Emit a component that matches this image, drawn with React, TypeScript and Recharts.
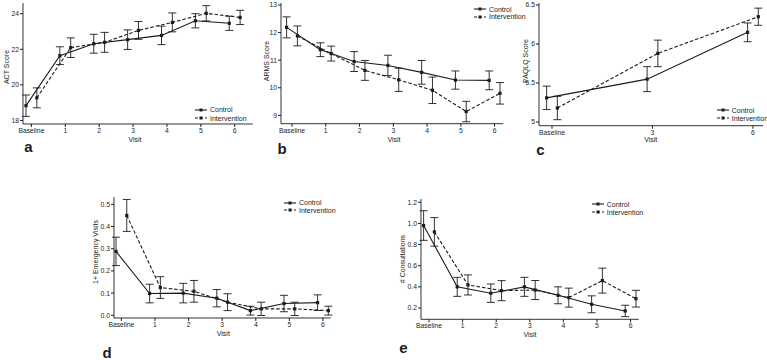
import React from 'react';
import { LineChart, Line, XAxis, YAxis, ErrorBar } from 'recharts';

// ---------- data ----------
const VISITS = [0, 1, 2, 3, 4, 5, 6];
const VISIT_LABELS = ['Baseline', '1', '2', '3', '4', '5', '6'];
const PAQLQ_VISITS = [0, 3, 6];
const PAQLQ_LABELS = ['Baseline', '3', '6'];

const actControl = [18.83, 21.64, 22.31, 22.54, 22.78, 23.6, 23.46];
const actControlErr = [0.6, 0.5, 0.53, 0.55, 0.52, 0.4, 0.4];
const actIntervention = [19.27, 22.09, 22.39, 23.06, 23.51, 24.02, 23.79];
const actInterventionErr = [0.56, 0.55, 0.56, 0.5, 0.53, 0.43, 0.4];
const actTicks = [18, 20, 22, 24];

const armsControl = [12.19, 11.38, 10.95, 10.81, 10.56, 10.28, 10.27];
const armsControlErr = [0.38, 0.25, 0.36, 0.37, 0.43, 0.33, 0.34];
const armsIntervention = [11.88, 11.24, 10.63, 10.29, 9.91, 9.14, 9.8];
const armsInterventionErr = [0.36, 0.27, 0.36, 0.42, 0.48, 0.37, 0.39];
const armsTicks = [9, 10, 11, 12, 13];

const paqlqControl = [5.31, 5.55, 6.15];
const paqlqControlErr = [0.15, 0.16, 0.12];
const paqlqIntervention = [5.18, 5.88, 6.35];
const paqlqInterventionErr = [0.15, 0.17, 0.11];
const paqlqTicks = [5, 5.5, 6, 6.5];

const edControl = [0.288, 0.098, 0.1, 0.077, 0.021, 0.053, 0.057];
const edControlErr = [0.064, 0.042, 0.044, 0.039, 0.02, 0.037, 0.035];
const edIntervention = [0.45, 0.125, 0.108, 0.059, 0.029, 0.029, 0.021];
const edInterventionErr = [0.072, 0.049, 0.049, 0.038, 0.03, 0.03, 0.02];
const edTicks = [0, 0.1, 0.2, 0.3, 0.4, 0.5];

const consControl = [0.98, 0.4, 0.34, 0.4, 0.32, 0.235, 0.172];
const consControlErr = [0.14, 0.09, 0.087, 0.09, 0.08, 0.08, 0.054];
const consIntervention = [0.92, 0.418, 0.364, 0.37, 0.298, 0.459, 0.288];
const consInterventionErr = [0.135, 0.095, 0.095, 0.09, 0.09, 0.118, 0.079];
const consTicks = [0.2, 0.4, 0.6, 0.8, 1.0, 1.2];

const SERIES_NAMES = ['Control', 'Intervention'];
const CONTROL_SHIFT = -0.16;
const INTERVENTION_SHIFT = 0.16;

// ---------- helpers ----------
const FONT = '"Liberation Sans", Arial, Helvetica, sans-serif';
const INK = '#1c1c1c';

const build = (visits: number[], vals: number[], errs: number[], shift: number) =>
  visits.map((v, i) => ({ x: v + shift, y: vals[i], e: errs[i] }));

const SquareDot = (props: any) => {
  const { cx, cy, index } = props;
  if (cx == null || cy == null) return <g key={`d${index}`} />;
  return <rect key={`d${index}`} x={cx - 1.6} y={cy - 1.6} width={3.2} height={3.2} fill={INK} />;
};

type PanelCfg = {
  plotLeft: number; plotTop: number; plotRight: number; plotBottom: number;
  xDomain: [number, number]; yDomain: [number, number];
  xTicks: number[]; xLabels: string[]; yTicks: number[]; yFmt: (v: number) => string;
  visits: number[];
  ctrl: number[]; ctrlErr: number[]; intv: number[]; intvErr: number[];
  yLabel: string; yLabelPos: [number, number]; visitPos: [number, number];
  letter: string; letterPos: [number, number];
  legendX: number; legendY: [number, number];
};

const YW = 26;
const XH = 16;

function Panel({ c }: { c: PanelCfg }) {
  const chartLeft = c.plotLeft - YW;
  const chartTop = c.plotTop - 6;
  const width = c.plotRight - chartLeft + 4;
  const height = c.plotBottom - chartTop + XH;
  const ctrlData = build(c.visits, c.ctrl, c.ctrlErr, CONTROL_SHIFT);
  const intvData = build(c.visits, c.intv, c.intvErr, INTERVENTION_SHIFT);
  const tickStyle = { fontSize: 6.8, fill: INK, fontFamily: FONT };
  const text = (s: string, x: number, y: number, extra: any = {}) => (
    <div style={{ position: 'absolute', left: x, top: y, transform: 'translate(-50%,-50%)', whiteSpace: 'nowrap', fontFamily: FONT, fontSize: 7, color: INK, lineHeight: 1, ...extra }}>{s}</div>
  );
  return (
    <>
      <div style={{ position: 'absolute', left: chartLeft, top: chartTop }}>
        <LineChart width={width} height={height} margin={{ top: 6, right: 4, bottom: 0, left: 0 }}>
          <XAxis type="number" dataKey="x" domain={c.xDomain} ticks={c.xTicks} allowDataOverflow interval={0}
            tickFormatter={(v: number) => c.xLabels[c.xTicks.indexOf(v)] ?? ''}
            height={XH} tick={tickStyle} tickSize={3} tickMargin={1} stroke={INK} axisLine={{ stroke: INK, strokeWidth: 0.9 }} tickLine={{ stroke: INK }} />
          <YAxis type="number" domain={c.yDomain} ticks={c.yTicks} allowDataOverflow interval={0}
            tickFormatter={c.yFmt} width={YW} tick={tickStyle} tickSize={3} tickMargin={1}
            stroke={INK} axisLine={{ stroke: INK, strokeWidth: 0.9 }} tickLine={{ stroke: INK }} />
          <Line data={ctrlData} dataKey="y" name={SERIES_NAMES[0]} stroke={INK} strokeWidth={1.1}
            dot={SquareDot} activeDot={false} isAnimationActive={false} type="linear">
            <ErrorBar dataKey="e" width={4} stroke={INK} strokeWidth={0.9} direction="y" />
          </Line>
          <Line data={intvData} dataKey="y" name={SERIES_NAMES[1]} stroke={INK} strokeWidth={1.1}
            strokeDasharray="3.5 2" dot={SquareDot} activeDot={false} isAnimationActive={false} type="linear">
            <ErrorBar dataKey="e" width={4} stroke={INK} strokeWidth={0.9} direction="y" />
          </Line>
        </LineChart>
      </div>
      {text(c.yLabel, c.yLabelPos[0], c.yLabelPos[1], { transform: 'translate(-50%,-50%) rotate(-90deg)' })}
      {text('Visit', c.visitPos[0], c.visitPos[1])}
      {text(c.letter, c.letterPos[0], c.letterPos[1], { fontSize: 15, fontWeight: 700 })}
      {SERIES_NAMES.map((n, i) => (
        <div key={n} style={{ position: 'absolute', left: c.legendX, top: c.legendY[i] - 5, height: 10, display: 'flex', alignItems: 'center', fontFamily: FONT, fontSize: 7, color: INK, whiteSpace: 'nowrap' }}>
          <svg width={12} height={6} style={{ marginRight: 3 }}>
            <line x1={0} y1={3} x2={12} y2={3} stroke={INK} strokeWidth={1.1} strokeDasharray={i === 1 ? '3 2' : undefined} />
            <rect x={4.5} y={1.5} width={3} height={3} fill={INK} />
          </svg>
          <span>{n}</span>
        </div>
      ))}
    </>
  );
}

const fmtInt = (v: number) => String(v);
const fmt1 = (v: number) => v.toFixed(1);

const panels: PanelCfg[] = [
  {
    plotLeft: 23.3, plotTop: 3.3, plotRight: 253, plotBottom: 124.3,
    xDomain: [-0.248, 6.531], yDomain: [17.8, 24.6], xTicks: VISITS, xLabels: VISIT_LABELS,
    yTicks: actTicks, yFmt: fmtInt, visits: VISITS,
    ctrl: actControl, ctrlErr: actControlErr, intv: actIntervention, intvErr: actInterventionErr,
    yLabel: 'ACT Score', yLabelPos: [6, 67], visitPos: [135, 138.5], letter: 'a', letterPos: [28.5, 146.3],
    legendX: 195, legendY: [109.7, 118],
  },
  {
    plotLeft: 280.7, plotTop: 3.3, plotRight: 503, plotBottom: 124,
    xDomain: [-0.326, 6.258], yDomain: [8.7, 13.072], xTicks: VISITS, xLabels: VISIT_LABELS,
    yTicks: armsTicks, yFmt: fmtInt, visits: VISITS,
    ctrl: armsControl, ctrlErr: armsControlErr, intv: armsIntervention, intvErr: armsInterventionErr,
    yLabel: 'ARMS Score', yLabelPos: [266, 61], visitPos: [394, 138.5], letter: 'b', letterPos: [282, 148],
    legendX: 474, legendY: [9.3, 16.7],
  },
  {
    plotLeft: 539.3, plotTop: 3.3, plotRight: 763.3, plotBottom: 126,
    xDomain: [-0.388, 6.3], yDomain: [4.953, 6.526], xTicks: PAQLQ_VISITS, xLabels: PAQLQ_LABELS,
    yTicks: paqlqTicks, yFmt: fmtInt, visits: PAQLQ_VISITS,
    ctrl: paqlqControl, ctrlErr: paqlqControlErr, intv: paqlqIntervention, intvErr: paqlqInterventionErr,
    yLabel: 'PAQLQ Score', yLabelPos: [525.3, 60.7], visitPos: [650.7, 138.5], letter: 'c', letterPos: [540.5, 148.7],
    legendX: 716.7, legendY: [110, 118.3],
  },
  {
    plotLeft: 114.3, plotTop: 196.7, plotRight: 331, plotBottom: 317.7,
    xDomain: [-0.22, 6.23], yDomain: [-0.0122, 0.533], xTicks: VISITS, xLabels: VISIT_LABELS,
    yTicks: edTicks, yFmt: fmt1, visits: VISITS,
    ctrl: edControl, ctrlErr: edControlErr, intv: edIntervention, intvErr: edInterventionErr,
    yLabel: '1+ Emergency Visits', yLabelPos: [95, 251.7], visitPos: [223.3, 332.7], letter: 'd', letterPos: [107, 352],
    legendX: 284, legendY: [202.7, 210],
  },
  {
    plotLeft: 420.7, plotTop: 199, plotRight: 638.3, plotBottom: 319.3,
    xDomain: [-0.238, 6.238], yDomain: [0.093, 1.231], xTicks: VISITS, xLabels: VISIT_LABELS,
    yTicks: consTicks, yFmt: fmt1, visits: VISITS,
    ctrl: consControl, ctrlErr: consControlErr, intv: consIntervention, intvErr: consInterventionErr,
    yLabel: '# Consultations', yLabelPos: [401.7, 259], visitPos: [530, 334.3], letter: 'e', letterPos: [403.3, 346.7],
    legendX: 591.7, legendY: [204.3, 212.3],
  },
];

export default function App() {
  return (
    <div style={{ position: 'absolute', left: 0, top: 0, width: 767, height: 360, background: '#fff', overflow: 'hidden' }}>
      {panels.map((p) => <Panel key={p.letter} c={p} />)}
    </div>
  );
}
